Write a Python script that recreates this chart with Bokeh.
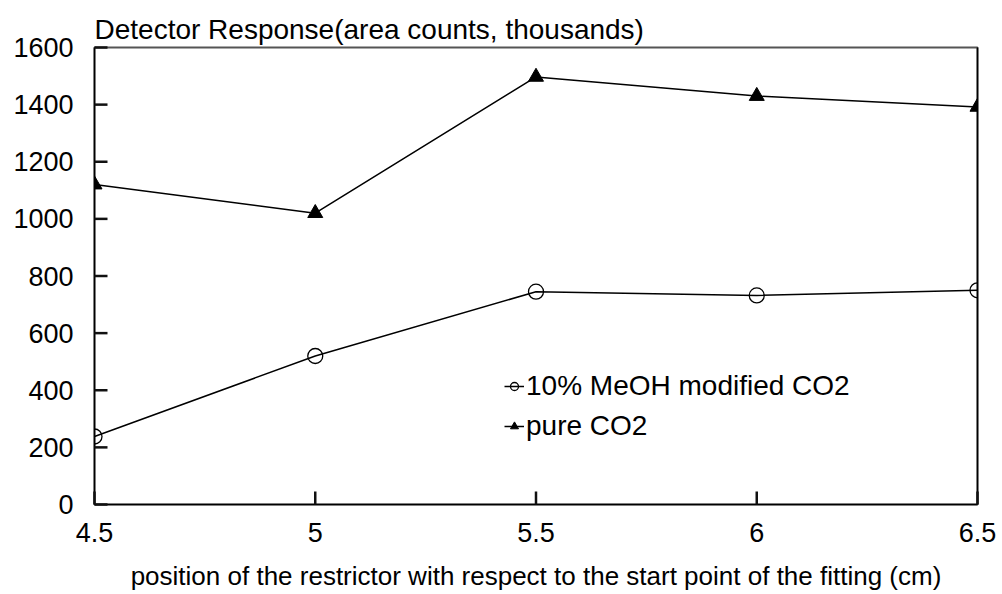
from bokeh.plotting import figure
from bokeh.models import FixedTicker, Legend, LegendItem, LinearAxis
from bokeh.embed import file_html
from bokeh.resources import INLINE

positions = [4.5, 5.0, 5.5, 6.0, 6.5]
meoh_co2 = [238, 520, 745, 732, 750]
pure_co2 = [1120, 1020, 1497, 1430, 1392]
x_ticks = [4.5, 5.0, 5.5, 6.0, 6.5]
x_tick_labels = ["4.5", "5", "5.5", "6", "6.5"]
y_ticks = [0, 200, 400, 600, 800, 1000, 1200, 1400, 1600]

FONT = "Liberation Sans"
X0, X1, Y0, Y1 = 4.5, 6.5, 0, 1600
FW, FH = 883, 457
TICK_PX = 13

p = figure(width=1002, height=594, output_backend="svg", toolbar_location=None,
           x_range=(X0, X1), y_range=(Y0, Y1),
           min_border_left=94, min_border_right=25, min_border_top=47, min_border_bottom=90)
p.frame_width = FW
p.frame_height = FH

p.title.text = "Detector Response(area counts, thousands)"
p.title.text_font = FONT
p.title.text_font_size = "28px"
p.title.text_font_style = "normal"
p.title.text_color = "black"
p.title.align = "left"
p.title.offset = 0
p.title.standoff = 6

p.grid.visible = False
p.background_fill_color = "white"
p.border_fill_color = "white"
p.outline_line_color = "#555555"
p.outline_line_width = 2

for ax in (p.xaxis[0], p.yaxis[0]):
    ax.axis_line_color = "black"
    ax.axis_line_width = 1.5
    ax.major_tick_line_color = None
    ax.major_tick_in = 0
    ax.major_tick_out = 0
    ax.minor_tick_line_color = None
    ax.major_label_text_font = FONT
    ax.major_label_text_font_size = "27px"
    ax.major_label_text_color = "black"

p.xaxis.ticker = FixedTicker(ticks=x_ticks)
p.xaxis.major_label_overrides = {t: s for t, s in zip(x_ticks, x_tick_labels)}
p.xaxis.major_label_standoff = 18
p.xaxis.axis_label = "position of the restrictor with respect to the start point of the fitting (cm)"
p.xaxis.axis_label_text_font = FONT
p.xaxis.axis_label_text_font_size = "26px"
p.xaxis.axis_label_text_font_style = "normal"
p.xaxis.axis_label_text_color = "black"
p.xaxis.axis_label_standoff = 16

p.yaxis.ticker = FixedTicker(ticks=y_ticks)
p.yaxis.major_label_standoff = 21

right = LinearAxis(ticker=FixedTicker(ticks=[]), major_label_text_font_size="0px",
                   axis_line_color="black", axis_line_width=1.5,
                   major_tick_line_color=None, minor_tick_line_color=None)
right.major_label_standoff = 0
p.add_layout(right, "right")

l1 = p.line(positions, meoh_co2, line_color="black", line_width=1.5)
m1 = p.scatter(positions, meoh_co2, marker="circle", size=15, fill_color="white",
               fill_alpha=0, line_color="black", line_width=1.3)
l2 = p.line(positions, pure_co2, line_color="black", line_width=1.5)
m2 = p.scatter(positions, pure_co2, marker="triangle", size=15, fill_color="black",
               line_color="black")

# inward tick marks as short segments from the tick arrays
dx = TICK_PX * (X1 - X0) / FW
dy = TICK_PX * (Y1 - Y0) / FH
p.segment(x0=[X0] * len(y_ticks), y0=y_ticks, x1=[X0 + dx] * len(y_ticks), y1=y_ticks,
          line_color="#111111", line_width=2.5, level="overlay")
p.segment(x0=x_ticks, y0=[Y0] * len(x_ticks), x1=x_ticks, y1=[Y0 + dy] * len(x_ticks),
          line_color="#111111", line_width=2.5, level="overlay")

legend = Legend(items=[LegendItem(label="10% MeOH modified CO2", renderers=[l1, m1]),
                       LegendItem(label="pure CO2", renderers=[l2, m2])],
                location=(410, 62), orientation="vertical",
                label_text_font=FONT, label_text_font_size="28px", label_text_color="black",
                glyph_width=20, glyph_height=26, label_height=26, label_standoff=2,
                spacing=8, padding=0, margin=0,
                border_line_alpha=0, background_fill_alpha=0)
p.add_layout(legend)

open("out.html", "w").write(file_html(p, INLINE))
